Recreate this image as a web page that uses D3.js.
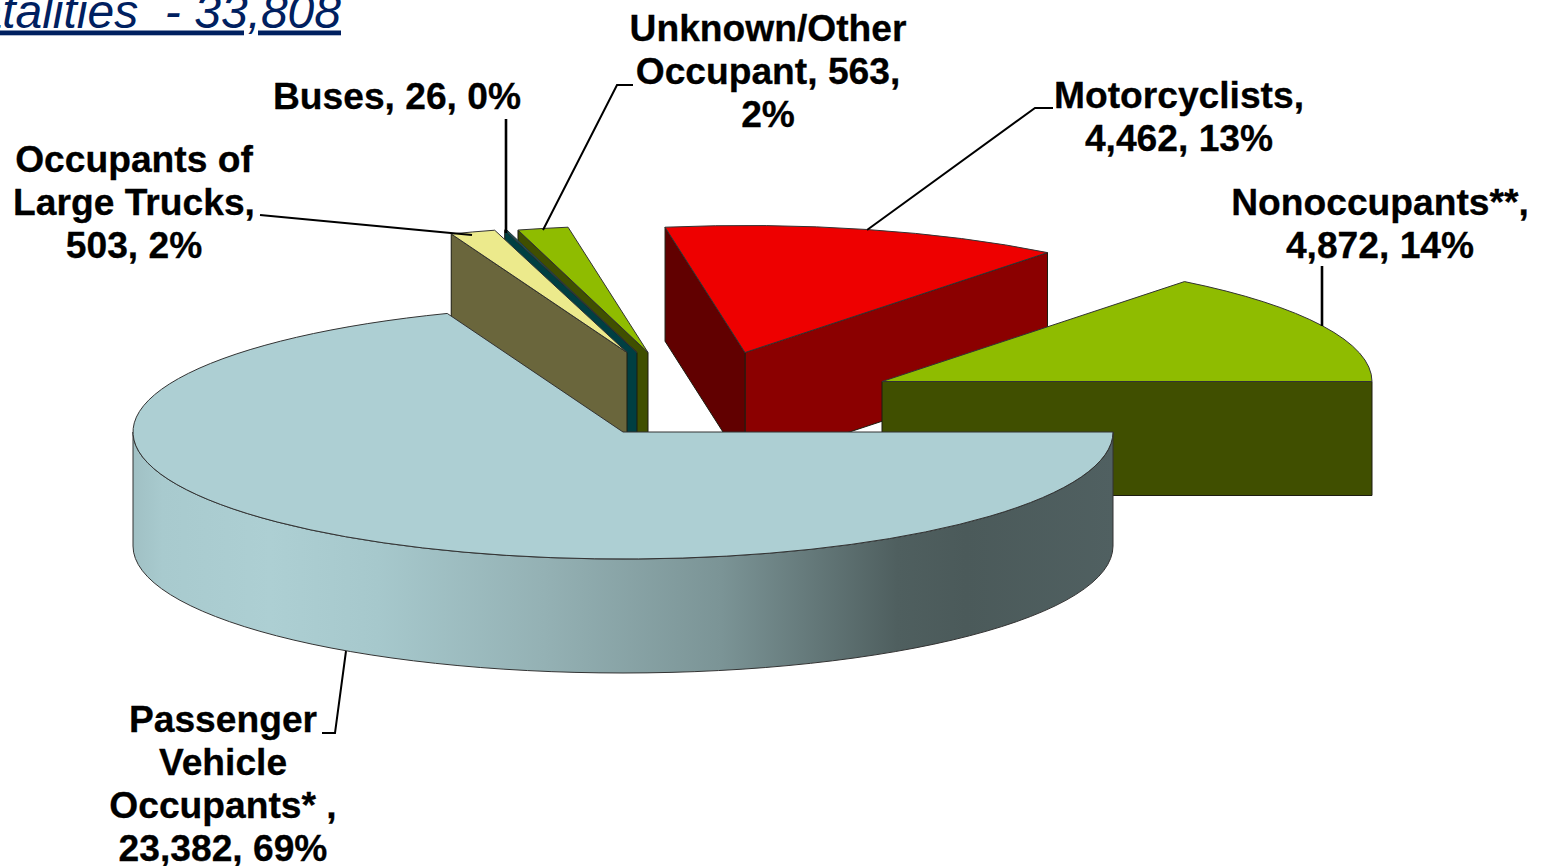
<!DOCTYPE html>
<html>
<head>
<meta charset="utf-8">
<script src="https://cdn.jsdelivr.net/npm/d3@7"></script>
<style>
  body { margin: 0; background: #fff; overflow: hidden; }
  svg { display: block; }
  text { font-family: "Liberation Sans", Arial, sans-serif; }
</style>
</head>
<body>
<div id="chart"></div>
<script>
// data
var categories = ["Passenger Vehicle Occupants*", "Occupants of Large Trucks", "Buses", "Unknown/Other Occupant", "Motorcyclists", "Nonoccupants**"];
var fatalities = [23382, 503, 26, 563, 4462, 4872];
var labelLines = [
    ["Passenger", "Vehicle", "Occupants* ,", "23,382, 69%"],
    ["Occupants of", "Large Trucks,", "503, 2%"],
    ["Buses, 26, 0%"],
    ["Unknown/Other", "Occupant, 563,", "2%"],
    ["Motorcyclists,", "4,462, 13%"],
    ["Nonoccupants**,", "4,872, 14%"]
];
var titleText = "Fatalities  - 33,808";

// styles
var topColors = ["#adcfd3", "#ecea8c", "#0f5a63", "#8fbc00", "#ee0000", "#8fbc00"];
var startWallColors = [null, "#6a663c", "#003f42", "#404f00", "#610000", null];
var endWallColors = [null, null, null, null, "#8b0000", "#404f00"];

// layout of the tilted pie
var w = 1544,
    h = 866,
    cx = 623,
    cy = 432,
    rx = 490,
    ry = 127,
    depth = 114,
    fontSize = 37.2,
    lineGap = 43;

// where each slice's point ended up after the explosion
var sliceOffsets = [[0, 0], [4, -79.5], [14, -79.5], [25, -79.5], [122, -79.5], [259, -50.5]];
var labelAnchors = [[223, 732], [134, 172], [397, 109], [768, 41], [1179, 108], [1380, 215]];
var leaders = [
    [[322, 733], [335, 733], [346, 651]],
    [[260, 215], [472, 235]],
    [[506, 119], [506, 233]],
    [[633, 85], [617, 85], [543, 230]],
    [[1053, 108], [1035, 108], [867, 230]],
    [[1322, 266], [1322, 326]]
];

var svg = d3.select("#chart")
    .append("svg")
    .attr("width", w)
    .attr("height", h);

// shading on the outer wall of the big slice
var grad = svg.append("defs").append("linearGradient")
    .attr("id", "rimShade")
    .attr("gradientUnits", "userSpaceOnUse")
    .attr("x1", cx - rx).attr("y1", 0)
    .attr("x2", cx + rx).attr("y2", 0);
[[0, "#a0c0c4"], [0.03, "#a8cace"], [0.14, "#adcfd3"], [0.25, "#a6c8cc"], [0.42, "#94b1b4"], [0.6, "#7b9496"], [0.78, "#4f5f5f"], [0.85, "#4b5a5a"], [1, "#506061"]]
    .forEach(function(s) {
        grad.append("stop").attr("offset", s[0]).attr("stop-color", s[1]);
    });

// pie starts at 3 o'clock and runs clockwise
var slices = d3.pie()
    .sort(null)
    .startAngle(Math.PI / 2)
    .endAngle(Math.PI / 2 + 2 * Math.PI)(fatalities);

var arc = d3.arc().innerRadius(0).outerRadius(rx);

function rimPoint(i, angle) {
    return [
        cx + sliceOffsets[i][0] + rx * Math.sin(angle),
        cy + sliceOffsets[i][1] - ry * Math.cos(angle)
    ];
}

function apex(i) {
    return [cx + sliceOffsets[i][0], cy + sliceOffsets[i][1]];
}

function radialWall(i, angle) {
    var a = apex(i), r = rimPoint(i, angle);
    return d3.line()([a, r, [r[0], r[1] + depth], [a[0], a[1] + depth]]) + "Z";
}

var g = svg.append("g");

function drawSlice(i) {
    var d = slices[i];
    if (endWallColors[i]) {
        g.append("path")
            .attr("d", radialWall(i, d.endAngle))
            .attr("fill", endWallColors[i])
            .attr("stroke", "#1c1c10")
            .attr("stroke-width", 1);
    }
    if (startWallColors[i]) {
        g.append("path")
            .attr("d", radialWall(i, d.startAngle))
            .attr("fill", startWallColors[i])
            .attr("stroke", "#1c1c10")
            .attr("stroke-width", 1);
    }
    if (i == 0) {
        // only the front half of the rim can be seen
        var c = apex(0);
        g.append("path")
            .attr("d", "M" + (c[0] - rx) + "," + c[1]
                + "A" + rx + "," + ry + " 0 0 0 " + (c[0] + rx) + "," + c[1]
                + "L" + (c[0] + rx) + "," + (c[1] + depth)
                + "A" + rx + "," + ry + " 0 0 1 " + (c[0] - rx) + "," + (c[1] + depth) + "Z")
            .attr("fill", "url(#rimShade)")
            .attr("stroke", "#333")
            .attr("stroke-width", 1);
    }
    g.append("path")
        .attr("d", arc(d))
        .attr("transform", "translate(" + apex(i) + ") scale(1," + (ry / rx) + ")")
        .attr("fill", topColors[i])
        .attr("stroke", "#333")
        .attr("stroke-width", 1)
        .attr("vector-effect", "non-scaling-stroke");
}

// back to front
[4, 5, 3, 2, 1, 0].forEach(drawSlice);

// leader lines
svg.append("g").selectAll("path")
    .data(leaders)
    .enter()
    .append("path")
    .attr("d", function(d) { return d3.line()(d); })
    .attr("fill", "none")
    .attr("stroke", "#000")
    .attr("stroke-width", function(d, i) { return (i == 2 || i == 5) ? 2.6 : 2; });

// data labels
labelLines.forEach(function(lines, i) {
    svg.append("text")
        .attr("class", "label")
        .attr("text-anchor", "middle")
        .attr("font-size", fontSize)
        .attr("font-weight", "bold")
        .attr("fill", "#000")
        .attr("stroke", "#000")
        .attr("stroke-width", 0.3)
        .selectAll("tspan")
        .data(lines)
        .enter()
        .append("tspan")
        .attr("x", labelAnchors[i][0])
        .attr("y", function(d, j) { return labelAnchors[i][1] + j * lineGap; })
        .text(function(d) { return d; });
});

// title, cut off by the top and left of the picture
svg.append("text")
    .attr("x", 341)
    .attr("y", 27.5)
    .attr("text-anchor", "end")
    .attr("font-size", 48)
    .attr("font-style", "italic")
    .attr("fill", "#002060")
    .attr("text-decoration", "underline")
    .style("white-space", "pre")
    .text(titleText);
</script>
</body>
</html>
